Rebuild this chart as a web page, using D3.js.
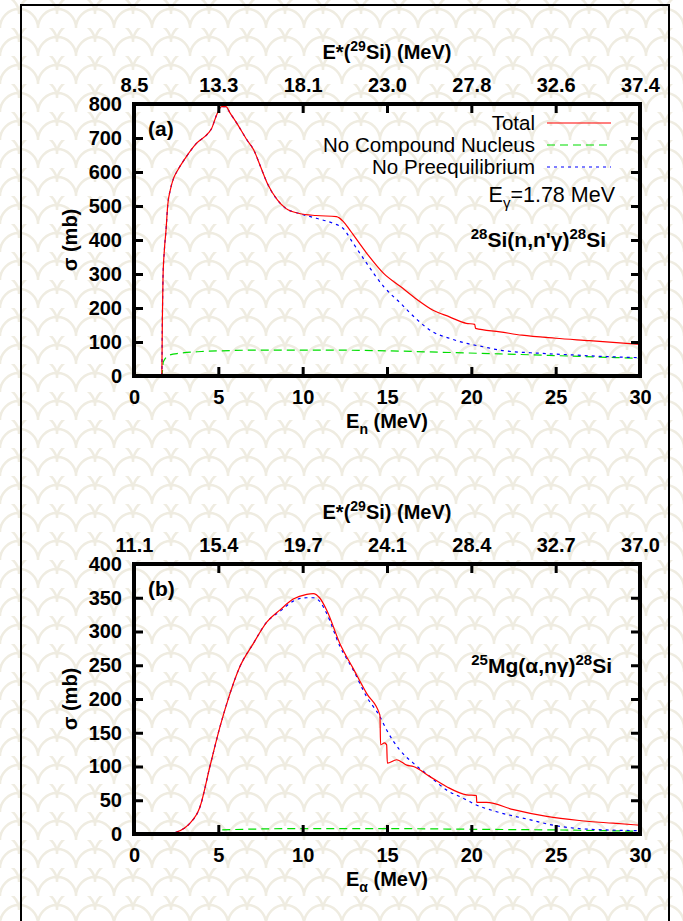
<!DOCTYPE html>
<meta charset="utf-8">
<style>
body { margin: 0; background: #fff; }
svg { display: block; }
text { font-family: "Liberation Sans", Arial, sans-serif; fill: #000; }
.tick text { font-size: 20px; font-weight: bold; }
.tick line { stroke: #000; stroke-width: 3px; }
.domain { display: none; }
</style>
<script src="https://d3js.org/d3.v7.min.js"></script>
<body>
<svg width="683" height="921"></svg>
<script>

// ---- data, [energy MeV, sigma mb] ----
var xTicks = [0, 5, 10, 15, 20, 25, 30];
var topLabelsA = ["8.5", "13.3", "18.1", "23.0", "27.8", "32.6", "37.4"];
var topLabelsB = ["11.1", "15.4", "19.7", "24.1", "28.4", "32.7", "37.0"];
var yTicksA = [0, 100, 200, 300, 400, 500, 600, 700, 800];
var yTicksB = [0, 50, 100, 150, 200, 250, 300, 350, 400];

var totalA = [[0,0],[1.65,0],[1.68,160],[1.72,290],[1.8,370],[1.9,430],[2.0,503],[2.15,547],[2.35,582],
  [2.6,606],[3.1,645],[3.7,684],[4.4,714],[4.6,728],[4.9,768],[5.2,792],[5.45,792],[5.7,773],[6.1,743],
  [6.7,694],[7.1,665],[7.5,616],[7.9,567],[8.5,518],[9.0,493],[9.8,478],[10.8,472],[12.0,469],[12.4,455],
  [12.8,429],[13.8,361],[14.8,302],[15.8,263],[16.8,224],[17.7,194],[18.7,174],[19.7,155],[20.2,152],
  [20.25,140],[21.7,130],[23,120],[25,111],[27,104],[30,93]];
var noCnA = [[0,0],[1.65,0],[1.74,42],[2.13,62],[2.7,67],[4,72],[5.1,74],[7,76],[9.8,76],[12,76],
  [15,74],[18.1,70],[21.7,65],[25,60],[28,55],[30,52]];
var noPeA = [[0,0],[1.65,0],[1.68,160],[1.72,290],[1.8,370],[1.9,430],[2.0,503],[2.15,547],[2.35,582],
  [2.6,606],[3.1,645],[3.7,684],[4.4,714],[4.6,728],[4.9,768],[5.2,792],[5.45,792],[5.7,773],[6.1,743],
  [6.7,694],[7.1,665],[7.5,616],[7.9,567],[8.5,518],[9.0,493],[9.8,478],[10.8,464],[11.8,449],[12.4,434],
  [13.0,390],[13.8,331],[14.8,263],[15.8,214],[16.8,165],[17.7,130],[18.7,111],[19.7,96],[20.7,86],
  [21.7,76],[24,67],[26,62],[28,57],[30,54]];

var totalB = [[0,0],[2.0,0],[2.53,3],[3.0,9],[3.32,16],[3.91,40],[4.5,100],[5.1,159],[5.69,208],[6.28,248],
  [7.07,282],[7.87,314],[8.66,332],[9.44,348],[10.24,355],[10.63,356],[11.0,350],[11.42,332],[12.21,282],
  [13.0,245],[13.8,208],[14.58,176],[14.62,132],[14.85,135],[14.98,132],[15.02,105],[15.57,110],
  [16.17,102],[16.56,100],[17.55,85],[18.54,70],[19.72,58],[20.3,57],[20.32,47],[20.9,47],[22.5,36],
  [24.47,26],[26.4,20],[28.4,16],[30,13]];
var noCnB = [[0,0],[5.0,0],[5.1,6],[10,8],[15,8],[20,7],[25,6],[30,4]];
var noPeB = [[0,0],[2.0,0],[2.53,3],[3.0,9],[3.32,16],[3.91,40],[4.5,100],[5.1,159],[5.69,208],[6.28,248],
  [7.07,282],[7.87,314],[8.66,330],[9.44,345],[10.24,350],[10.63,350],[11.0,345],[11.42,327],[12.21,278],
  [13.0,243],[13.8,203],[14.58,174],[14.98,154],[15.77,124],[16.56,105],[17.55,85],[18.54,65],[19.52,53],
  [20.3,43],[21.5,33],[23.5,21],[24.86,13],[26.4,8],[28,6],[30,5]];

var colors = { total: "#ff0000", noCn: "#00dd00", noPe: "#0000ff" };

// ---------------------------------

var svg = d3.select("svg");

// scalloped background
var defs = svg.append("defs");
var pat = defs.append("pattern")
    .attr("id", "bg")
    .attr("patternUnits", "userSpaceOnUse")
    .attr("width", 38).attr("height", 28);
pat.append("path")
    .attr("d", "M0,28 A19,19 0 0 1 38,28 M-19,14 A19,19 0 0 1 19,14 M19,14 A19,19 0 0 1 57,14")
    .attr("fill", "none")
    .attr("stroke", "#efece1")
    .attr("stroke-width", 2.5);
svg.append("rect").attr("width", 683).attr("height", 921).attr("fill", "url(#bg)");

// outer frame
svg.append("path")
    .attr("d", "M21,921 V5 H669 V921")
    .attr("fill", "none").attr("stroke", "#000").attr("stroke-width", 2);

var x = d3.scaleLinear().domain([0, 30]).range([134, 640]);

function panel(opt) {
  var y = d3.scaleLinear().domain([0, opt.ymax]).range([opt.y0, opt.y1]);
  var g = svg.append("g");

  var line = d3.line()
      .curve(d3.curveMonotoneX)
      .x(function(d) { return x(d[0]); })
      .y(function(d) { return y(d[1]); });

  g.append("path").datum(opt.noCn).attr("d", line)
      .attr("fill", "none").attr("stroke", colors.noCn).attr("stroke-width", 1.2)
      .attr("stroke-dasharray", "8,5");
  g.append("path").datum(opt.noPe).attr("d", line)
      .attr("fill", "none").attr("stroke", colors.noPe).attr("stroke-width", 1.2)
      .attr("stroke-dasharray", "3,4");
  g.append("path").datum(opt.total).attr("d", line)
      .attr("fill", "none").attr("stroke", colors.total).attr("stroke-width", 1.2);

  g.append("g").attr("transform", "translate(0," + opt.y0 + ")")
      .call(d3.axisBottom(x).tickValues(xTicks).tickSize(-9).tickPadding(14));
  g.append("g").attr("transform", "translate(0," + opt.y1 + ")")
      .call(d3.axisTop(x).tickValues(xTicks).tickSize(-9).tickPadding(12)
        .tickFormat(function(d, i) { return opt.topLabels[i]; }));
  g.append("g").attr("transform", "translate(134,0)")
      .call(d3.axisLeft(y).tickValues(opt.yTicks).tickSize(-9).tickPadding(12));
  g.append("g").attr("transform", "translate(640,0)")
      .call(d3.axisRight(y).tickValues(opt.yTicks).tickSize(-9).tickFormat(""));
  g.selectAll(".tick line").attr("stroke-width", 3);

  g.append("rect")
      .attr("x", 134).attr("y", opt.y1)
      .attr("width", 506).attr("height", opt.y0 - opt.y1)
      .attr("fill", "none").attr("stroke", "#000").attr("stroke-width", 4);

  // axis titles
  var tt = g.append("text").attr("x", 387).attr("y", opt.y1 - 45)
      .attr("text-anchor", "middle").attr("font-size", 20).attr("font-weight", "bold");
  tt.append("tspan").text("E*(");
  tt.append("tspan").attr("dy", -8).attr("font-size", 14).text("29");
  tt.append("tspan").attr("dy", 8).text("Si) (MeV)");

  var bt = g.append("text").attr("x", 387).attr("y", opt.y0 + 52)
      .attr("text-anchor", "middle").attr("font-size", 20).attr("font-weight", "bold");
  bt.append("tspan").text("E");
  bt.append("tspan").attr("dy", 6).attr("font-size", 14).text(opt.sub);
  bt.append("tspan").attr("dy", -6).text(" (MeV)");

  g.append("text")
      .attr("transform", "translate(77," + (opt.y0 + opt.y1) / 2 + ") rotate(-90)")
      .attr("text-anchor", "middle").attr("font-size", 20).attr("font-weight", "bold")
      .text("\u03c3 (mb)");

  g.append("text").attr("x", 148).attr("y", opt.y1 + 32)
      .attr("font-size", 21).attr("font-weight", "bold").text(opt.tag);

  var rt = g.append("text").attr("x", opt.reactX).attr("y", opt.reactY)
      .attr("text-anchor", "end").attr("font-size", 21).attr("font-weight", "bold");
  rt.append("tspan").attr("dy", -8).attr("font-size", 15).text(opt.reaction[0]);
  rt.append("tspan").attr("dy", 8).text(opt.reaction[1]);
  rt.append("tspan").attr("dy", -8).attr("font-size", 15).text("28");
  rt.append("tspan").attr("dy", 8).text("Si");
  return g;
}

var ga = panel({ ymax: 800, y0: 376, y1: 104, yTicks: yTicksA, topLabels: topLabelsA,
  total: totalA, noCn: noCnA, noPe: noPeA, sub: "n", tag: "(a)",
  reaction: ["28", "Si(n,n'\u03b3)"], reactX: 606, reactY: 247 });
var gb = panel({ ymax: 400, y0: 834, y1: 564, yTicks: yTicksB, topLabels: topLabelsB,
  total: totalB, noCn: noCnB, noPe: noPeB, sub: "\u03b1", tag: "(b)",
  reaction: ["25", "Mg(\u03b1,n\u03b3)"], reactX: 612, reactY: 673 });

// legend (panel a)
var legend = [
  { name: "Total", color: colors.total, dash: null },
  { name: "No Compound Nucleus", color: colors.noCn, dash: "8,5" },
  { name: "No Preequilibrium", color: colors.noPe, dash: "3,4" }
];
legend.forEach(function(d, i) {
  var yy = 123 + i * 22;
  ga.append("text").attr("x", 535).attr("y", yy + 7)
      .attr("text-anchor", "end").attr("font-size", 20.5).text(d.name);
  ga.append("line").attr("x1", 547).attr("x2", 611).attr("y1", yy).attr("y2", yy)
      .attr("stroke", d.color).attr("stroke-width", 1.2)
      .attr("stroke-dasharray", d.dash);
});

var eg = ga.append("text").attr("x", 615).attr("y", 202)
    .attr("text-anchor", "end").attr("font-size", 21.5);
eg.append("tspan").text("E");
eg.append("tspan").attr("dy", 6).attr("font-size", 15).text("\u03b3");
eg.append("tspan").attr("dy", -6).text("=1.78 MeV");

</script>
</body>
